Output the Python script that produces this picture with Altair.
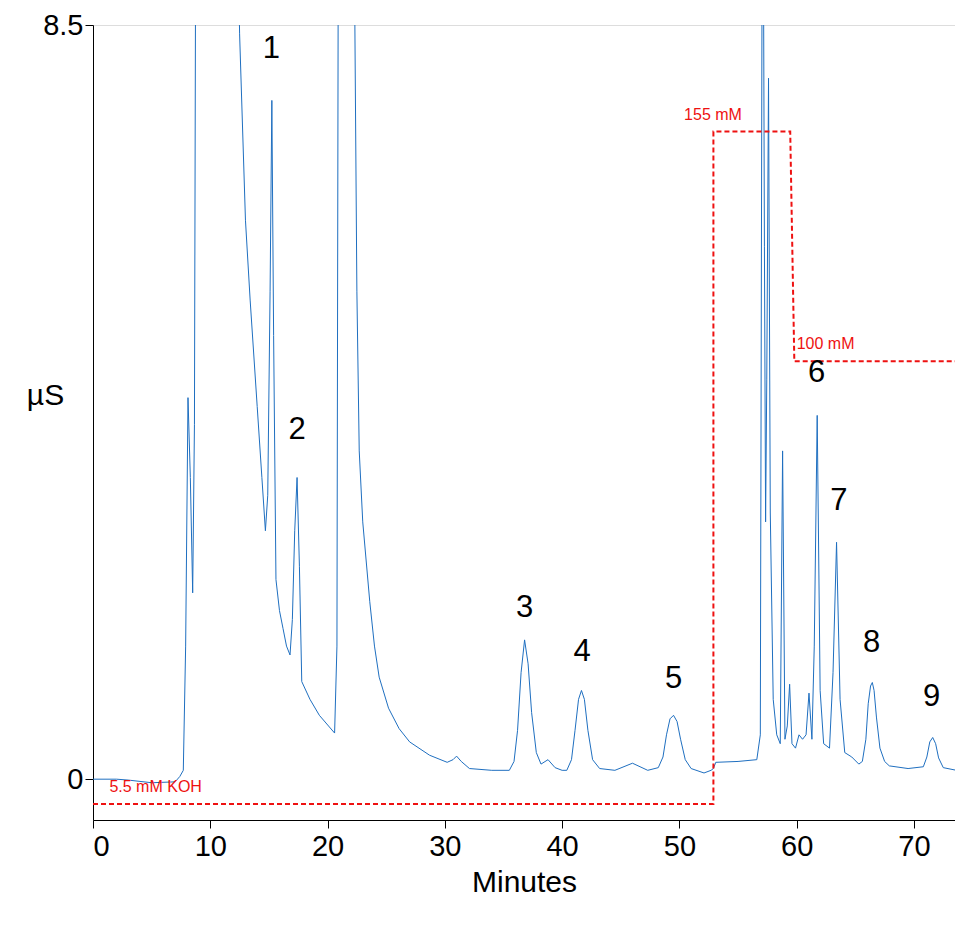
import altair as alt
import pandas as pd

# chromatogram trace (minutes, µS); values above 8.5 are off scale
minutes = [0, 2, 3, 5, 7, 7.4, 7.7, 7.9, 8.1, 8.3, 8.5, 8.65, 8.8, 9.5, 11.5, 12.3, 12.5, 13.0, 13.4, 14.0,
           14.4, 14.7, 14.9, 15.1, 15.25, 15.4, 15.6, 15.9, 16.2, 16.5, 16.8, 17.0, 17.2, 17.4, 17.6,
           17.8, 18.5, 19.3, 20.6, 20.8, 20.95, 21.2, 22.2, 22.3, 22.5, 22.7, 23.0, 23.6, 24.0, 24.4,
           25.2, 26.1, 27.0, 28.7, 30.2, 30.7, 31.0, 31.4, 32.1, 34, 35.5, 35.9, 36.2, 36.5, 36.8, 37.1,
           37.4, 37.8, 38.2, 38.8, 39.4, 40.0, 40.4, 40.8, 41.1, 41.4, 41.65, 41.9, 42.2, 42.6, 43.2,
           44.5, 46.0, 47.3, 48.2, 48.6, 48.9, 49.2, 49.5, 49.8, 50.1, 50.5, 51.0, 52.1, 52.7, 52.9,
           53.1, 55, 56.6, 56.9, 57.1, 57.25, 57.35, 57.45, 57.6, 57.75, 58.0, 58.3, 58.6, 58.8, 59.0,
           59.2, 59.4, 59.6, 59.9, 60.2, 60.5, 60.8, 61.05, 61.3, 61.5, 61.75, 62.0, 62.3, 62.8, 63.1,
           63.4, 63.7, 64.1, 64.7, 65.3, 65.6, 65.9, 66.1, 66.3, 66.45, 66.6, 66.8, 67.1, 67.5, 67.9,
           69.5, 70.8, 71.1, 71.35, 71.6, 71.85, 72.1, 72.5, 74]
signal = [0, 0, -0.01, -0.04, -0.03, 0.03, 0.1, 1.5, 4.3, 3.4, 2.1, 4.0, 12, 12, 12, 10, 8.4, 6.3, 5.4, 4.2,
          3.4, 2.8, 3.2, 5.5, 7.65, 5.0, 2.25, 1.9, 1.7, 1.5, 1.4, 1.8, 2.8, 3.4, 2.4,
          1.1, 0.9, 0.72, 0.52, 1.5, 12, 12, 12, 9.0, 5.5, 3.7, 2.9, 2.0, 1.5, 1.15,
          0.8, 0.57, 0.42, 0.27, 0.19, 0.22, 0.26, 0.2, 0.12, 0.1, 0.1, 0.2, 0.55, 1.2, 1.57, 1.3,
          0.75, 0.3, 0.17, 0.22, 0.13, 0.1, 0.1, 0.22, 0.55, 0.9, 1.0, 0.9, 0.55, 0.22, 0.12,
          0.1, 0.18, 0.1, 0.13, 0.25, 0.5, 0.68, 0.72, 0.65, 0.45, 0.22, 0.12, 0.07, 0.1, 0.12,
          0.19, 0.2, 0.22, 0.5, 12, 6.0, 2.9, 4.5, 7.9, 3.0, 0.9, 0.5, 0.4, 3.7, 0.45,
          0.6, 1.07, 0.4, 0.35, 0.5, 0.45, 0.5, 0.97, 0.45, 1.5, 4.1, 1.0, 0.4, 0.35, 1.2,
          2.67, 0.9, 0.3, 0.25, 0.17, 0.2, 0.45, 0.85, 1.05, 1.09, 1.0, 0.7, 0.35, 0.2, 0.15,
          0.12, 0.14, 0.25, 0.42, 0.47, 0.4, 0.24, 0.13, 0.09]

# eluent gradient (KOH concentration step program, drawn in µS axis units)
grad_min = [0, 52.9, 52.9, 59.45, 59.8, 74]
grad_val = [-0.28, -0.28, 7.3, 7.3, 4.71, 4.71]

peak_ids = ["1", "2", "3", "4", "5", "6", "7", "8", "9"]
peak_min = [15.2, 17.4, 36.8, 41.7, 49.5, 61.7, 63.6, 66.4, 71.5]
peak_lab_y = [8.05, 3.75, 1.75, 1.25, 0.95, 4.4, 2.95, 1.35, 0.75]

grad_labels = ["5.5 mM KOH", "155 mM", "100 mM"]
grad_lab_min = [1.4, 50.4, 60.0]
grad_lab_y = [-0.18, 7.4, 4.81]

trace = pd.DataFrame({"t": minutes, "v": signal})
grad = pd.DataFrame({"t": grad_min, "v": grad_val, "o": list(range(len(grad_min)))})
peaks = pd.DataFrame({"t": peak_min, "v": peak_lab_y, "id": peak_ids})
glabs = pd.DataFrame({"t": grad_lab_min, "v": grad_lab_y, "txt": grad_labels})

xs = alt.Scale(domain=[0, 73.5], nice=False, zero=False)
ys = alt.Scale(domain=[-0.46, 8.5], nice=False, zero=False)
x_axis = alt.Axis(values=[0, 10, 20, 30, 40, 50, 60, 70], format="d", labelFontSize=29, titleFontSize=30,
                  titleFontWeight="normal", tickSize=8, grid=False, domainColor="black", tickColor="black",
                  labelColor="black", titleColor="black", titlePadding=6, labelPadding=4)
y_axis = alt.Axis(values=[0, 8.5], labelFontSize=29, titleFontSize=30, titleFontWeight="normal", tickSize=8,
                  grid=False, titleAngle=0, titleX=-48, titleY=385, domainColor="black", tickColor="black",
                  labelColor="black", titleColor="black", labelExpr="datum.value == 0 ? '0' : '8.5'")


def xy():
    return {
        "x": alt.X("t:Q", scale=xs, axis=x_axis, title="Minutes"),
        "y": alt.Y("v:Q", scale=ys, axis=y_axis, title="µS"),
    }


line = alt.Chart(trace).mark_line(color="#1f6fc0", strokeWidth=1, clip=True).encode(**xy())
gline = alt.Chart(grad).mark_line(color="#ee1111", strokeWidth=2, strokeDash=[5, 3], clip=True).encode(
    order="o:Q", **xy()
)
ptext = alt.Chart(peaks).mark_text(fontSize=31, baseline="bottom", color="black").encode(text="id:N", **xy())
gtext = alt.Chart(glabs).mark_text(fontSize=16, align="left", baseline="bottom", color="#ee1111").encode(
    text="txt:N", **xy()
)

chart = (
    (line + gline + ptext + gtext)
    .properties(width=862, height=795)
    .configure_view(stroke="transparent", strokeWidth=0)
    .configure_axis(grid=False, gridOpacity=0)
    .configure(font="Liberation Sans", padding={"left": 18, "top": 3, "right": 0, "bottom": 0})
)
chart.save("out.html", embed_options={"renderer": "svg", "actions": False})
